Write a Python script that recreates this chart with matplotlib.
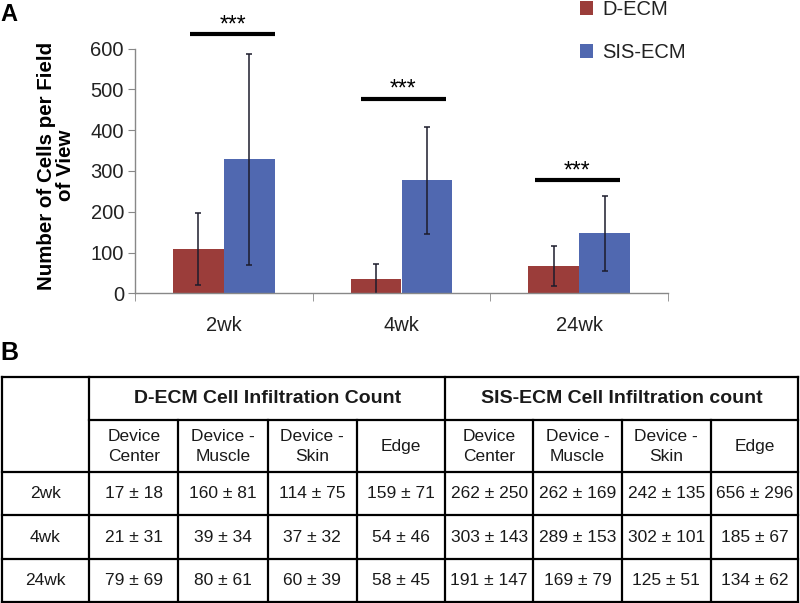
import matplotlib
matplotlib.use("Agg")
import matplotlib.pyplot as plt
import numpy as np

plt.rcParams['font.family'] = ['Liberation Sans', 'DejaVu Sans']

# ---- data ----
categories = ['2wk', '4wk', '24wk']
series_names = ['D-ECM', 'SIS-ECM']
d_ecm_mean = [108, 36, 68]
d_ecm_err = [88, 37, 49]
sis_ecm_mean = [329, 277, 147]
sis_ecm_err = [259, 132, 92]
sig_labels = ['***', '***', '***']
sig_heights = [635, 476, 277]
sig_start = [-0.19, -0.23, -0.25]
sig_end = [0.29, 0.25, 0.23]
yticks = [0, 100, 200, 300, 400, 500, 600]

table_rows = ['2wk', '4wk', '24wk']
table_groups = ['D-ECM Cell Infiltration Count', 'SIS-ECM Cell Infiltration count']
table_subcols = ['Device\nCenter', 'Device -\nMuscle', 'Device -\nSkin', 'Edge']
d_ecm_table = [['17 ± 18', '160 ± 81', '114 ± 75', '159 ± 71'],
               ['21 ± 31', '39 ± 34', '37 ± 32', '54 ± 46'],
               ['79 ± 69', '80 ± 61', '60 ± 39', '58 ± 45']]
sis_ecm_table = [['262 ± 250', '262 ± 169', '242 ± 135', '656 ± 296'],
                 ['303 ± 143', '289 ± 153', '302 ± 101', '185 ± 67'],
                 ['191 ± 147', '169 ± 79', '125 ± 51', '134 ± 62']]

RED = '#9B3D3A'
BLUE = '#5068B0'
ERRC = '#1c1c2c'

W, H = 800, 603
fig = plt.figure(figsize=(W / 100, H / 100), dpi=100)

# ---- Panel A ----
ax = fig.add_axes([135 / W, 1 - 293.3 / H, (668 - 135) / W, (293.3 - 48.7) / H])
x = np.arange(len(categories))
bw = 0.287
ax.bar(x - bw / 2, d_ecm_mean, bw, color=RED, edgecolor='none', label=series_names[0])
ax.bar(x + bw / 2, sis_ecm_mean, bw, color=BLUE, edgecolor='none', label=series_names[1])
ax.errorbar(x - bw / 2, d_ecm_mean, yerr=d_ecm_err, fmt='none', ecolor=ERRC,
            elinewidth=1.1, capsize=2.3, capthick=1.1)
ax.errorbar(x + bw / 2, sis_ecm_mean, yerr=sis_ecm_err, fmt='none', ecolor=ERRC,
            elinewidth=1.1, capsize=2.3, capthick=1.1)
ax.set_xlim(-0.5, len(categories) - 0.5)
ax.set_ylim(0, 600)
ax.set_yticks(yticks)
ax.tick_params(axis='y', labelsize=14.5, length=5, color='#888888', pad=3, labelcolor='#222222')
ax.set_xticks(x)
ax.set_xticklabels(categories)
ax.tick_params(axis='x', which='major', length=0, labelsize=14.5, pad=16, labelcolor='#222222')
ax.set_xticks(np.arange(-0.5, len(categories)), minor=True)
ax.tick_params(axis='x', which='minor', length=6, color='#888888')
for s in ['top', 'right']:
    ax.spines[s].set_visible(False)
for s in ['left', 'bottom']:
    ax.spines[s].set_color('#888888')
    ax.spines[s].set_linewidth(1.0)
ax.set_ylabel('Number of Cells per Field\nof View', fontsize=14.8, fontweight='bold',
              linespacing=1.0)
ax.yaxis.set_label_coords((75 - 135) / 533, 0.522)

for i, lab in enumerate(sig_labels):
    ax.plot([x[i] + sig_start[i], x[i] + sig_end[i]], [sig_heights[i]] * 2, color='black',
            lw=3, clip_on=False, solid_capstyle='butt')
    ax.text(x[i] + (sig_start[i] + sig_end[i]) / 2, sig_heights[i] + 8, lab, ha='center',
            va='baseline', fontsize=16.5, clip_on=False)

leg = ax.legend(loc='upper left', bbox_to_anchor=(580 / W, 1.0), bbox_transform=fig.transFigure,
                frameon=False, fontsize=14.5, handlelength=0.65, handleheight=0.65,
                handletextpad=0.45, labelspacing=1.2, borderaxespad=0, borderpad=0)
for t in leg.get_texts():
    t.set_color('#222222')

fig.text(0 / W, 1 - 3 / H, 'A', fontsize=17, fontweight='bold', va='top', ha='left')
fig.text(0 / W, 1 - 341 / H, 'B', fontsize=18, fontweight='bold', va='top', ha='left')

# ---- Panel B: table ----
tx = fig.add_axes([0, 0, 1, 1])
tx.set_xlim(0, W)
tx.set_ylim(H, 0)
tx.axis('off')
col_x = [1.5, 89.3, 178.3, 267.7, 356.7, 445, 533.3, 621.7, 710.7, 798.3]
row_y = [376.7, 420, 471.7, 515, 559.3, 601.5]
lw = 1.6
tx.plot([col_x[0], col_x[-1]], [row_y[0]] * 2, color='black', lw=lw)
tx.plot([col_x[1], col_x[-1]], [row_y[1]] * 2, color='black', lw=lw)
for yy in row_y[2:]:
    tx.plot([col_x[0], col_x[-1]], [yy] * 2, color='black', lw=lw)
for j, xx in enumerate(col_x):
    if j in (0, 1, 5, 9):
        tx.plot([xx, xx], [row_y[0], row_y[-1]], color='black', lw=lw)
    else:
        tx.plot([xx, xx], [row_y[1], row_y[-1]], color='black', lw=lw)

tcol = '#1a1a1a'
for g, name in enumerate(table_groups):
    cx = (col_x[1 + 4 * g] + col_x[5 + 4 * g]) / 2
    tx.text(cx, (row_y[0] + row_y[1]) / 2, name, ha='center', va='center',
            fontsize=14, fontweight='bold', color=tcol)
for g in range(2):
    for k, sc in enumerate(table_subcols):
        cx = (col_x[1 + 4 * g + k] + col_x[2 + 4 * g + k]) / 2
        tx.text(cx, (row_y[1] + row_y[2]) / 2 + 1, sc, ha='center', va='center',
                fontsize=12.5, color=tcol, linespacing=1.4)
for r, rname in enumerate(table_rows):
    cy = (row_y[2 + r] + row_y[3 + r]) / 2
    tx.text((col_x[0] + col_x[1]) / 2, cy, rname, ha='center', va='center', fontsize=12.5, color=tcol)
    for k in range(4):
        cx = (col_x[1 + k] + col_x[2 + k]) / 2
        tx.text(cx, cy, d_ecm_table[r][k], ha='center', va='center', fontsize=12.5, color=tcol)
        cx2 = (col_x[5 + k] + col_x[6 + k]) / 2
        tx.text(cx2, cy, sis_ecm_table[r][k], ha='center', va='center', fontsize=12.5, color=tcol)

fig.savefig('out.png', dpi=100)
